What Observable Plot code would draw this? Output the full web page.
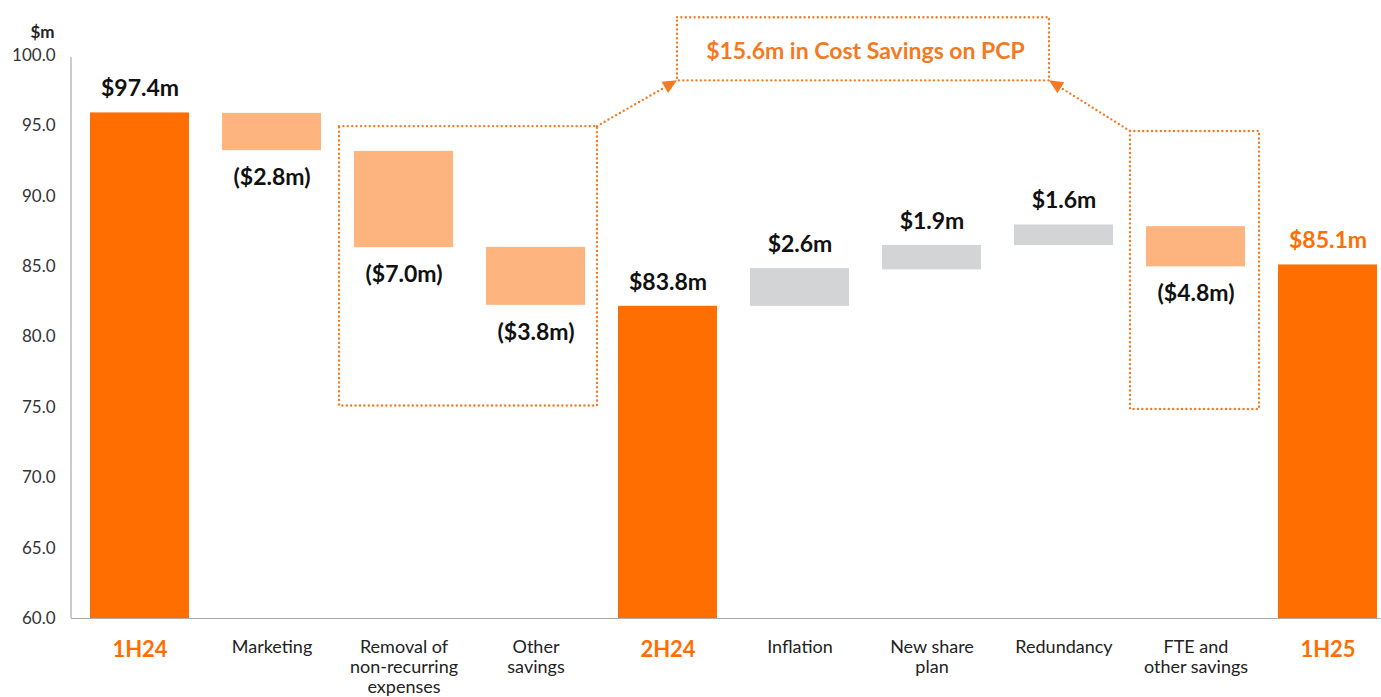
<!DOCTYPE html>
<html>
<head>
<meta charset="utf-8">
<script src="https://cdn.jsdelivr.net/npm/d3@7"></script>
<script src="https://cdn.jsdelivr.net/npm/@observablehq/plot@0.6"></script>
<style>
  html, body { margin: 0; padding: 0; background: #fff; }
  #chart svg { display: block; }
</style>
</head>
<body>
<div id="chart"></div>
<script>
// ---- data ----
const categories = ["1H24", "Marketing", "Removal of\nnon-recurring\nexpenses", "Other\nsavings", "2H24",
                    "Inflation", "New share\nplan", "Redundancy", "FTE and\nother savings", "1H25"];
const kinds = ["total", "decrease", "decrease", "decrease", "total",
               "increase", "increase", "increase", "decrease", "total"];
const barLow  = [60, 93.24, 86.35, 82.25, 60, 82.18, 84.77, 86.49, 84.98, 60];
const barHigh = [95.92, 95.89, 93.19, 86.37, 82.18, 84.86, 86.51, 87.96, 87.84, 85.12];
const valueLabels = ["$97.4m", "($2.8m)", "($7.0m)", "($3.8m)", "$83.8m",
                     "$2.6m", "$1.9m", "$1.6m", "($4.8m)", "$85.1m"];
const yTicks = [60, 65, 70, 75, 80, 85, 90, 95, 100];
const highlightLabel = "1H25";
const calloutText = "$15.6m in Cost Savings on PCP";
const unitLabel = "$m";

// ---- styles ----
const ORANGE = "#FF6E00";
const LIGHT = "#FDB47F";
const GREY = "#D3D4D6";
const DOT = "#F37A22";
const FONT = "Lato, 'Open Sans', sans-serif";
const fillFor = {total: ORANGE, decrease: LIGHT, increase: GREY};

const data = categories.map((c, i) => ({
  cat: c, kind: kinds[i], low: barLow[i], high: barHigh[i], label: valueLabels[i]
}));

const W = 1381, H = 697;
const chart = Plot.plot({
  width: W, height: H,
  marginLeft: 71, marginRight: 0, marginTop: 55, marginBottom: 79,
  style: {fontFamily: FONT, background: "#fff"},
  x: {domain: categories, paddingInner: 0.25, paddingOuter: 0.087, align: 0.83, axis: null},
  y: {domain: [60, 100], axis: null},
  color: {type: "identity"},
  marks: [
    Plot.axisY({ticks: yTicks, tickFormat: d3.format(".1f"), tickSize: 0, tickPadding: 16,
                fontSize: 17, fill: "#333", label: null}),
    Plot.barY(data, {x: "cat", y1: "low", y2: "high", fill: d => fillFor[d.kind]}),
    Plot.ruleY([60], {stroke: "#aaa", strokeWidth: 1.2}),
    // labels above bars
    Plot.text(data.filter(d => d.kind !== "decrease"), {
      x: "cat", y: "high", text: "label", dy: -24, fontSize: 23, fontWeight: 700,
      fill: d => d.cat === highlightLabel ? ORANGE : "#111"
    }),
    // labels below bars
    Plot.text(data.filter(d => d.kind === "decrease"), {
      x: "cat", y: "low", text: "label", dy: 27, fontSize: 23, fontWeight: 700, fill: "#111"
    }),
    // category labels
    Plot.text(data.filter(d => d.kind !== "total"), {
      x: "cat", y: 60, text: "cat", lineAnchor: "top", dy: 20, fontSize: 18,
      lineHeight: 1.12, fill: "#222"
    }),
    Plot.text(data.filter(d => d.kind === "total"), {
      x: "cat", y: 60, text: "cat", lineAnchor: "top", dy: 23, fontSize: 22,
      fontWeight: 700, fill: ORANGE
    }),
    Plot.text([unitLabel], {frameAnchor: "top-left", dx: -17, dy: -30, textAnchor: "end",
      fontSize: 17, fontWeight: 700, fill: "#222"})
  ]
});

document.getElementById("chart").appendChild(chart);

// ---- annotations placed through the chart's own scales ----
const sx = chart.scale("x"), sy = chart.scale("y");
const bw = sx.bandwidth;
const X = c => sx.apply(c);
const Y = v => sy.apply(v);
const svg = d3.select(chart);

// y axis line
svg.append("line")
  .attr("x1", 71).attr("x2", 71).attr("y1", Y(99.85)).attr("y2", Y(60))
  .attr("stroke", "#aaa").attr("stroke-width", 1.2);

const g = svg.append("g").attr("fill", "none").attr("stroke", DOT)
  .attr("stroke-width", 2.4).attr("stroke-dasharray", "0 4.4").attr("stroke-linecap", "round");

function box(x0, x1, y0, y1) {
  g.append("rect").attr("x", x0).attr("y", y0).attr("width", x1 - x0).attr("height", y1 - y0);
}
// group 1: Removal + Other savings
const b1 = {x0: X(categories[2]) - 15, x1: X(categories[3]) + bw + 12, y0: Y(94.95), y1: Y(75.1)};
// group 2: FTE and other savings
const b2 = {x0: X(categories[8]) - 16, x1: X(categories[8]) + bw + 14, y0: Y(94.6), y1: Y(74.85)};
// callout
const bt = {x0: X(categories[4]) + bw / 2 + 9.5, x1: X(categories[7]) + bw / 2 - 14.5, y0: Y(102.68), y1: Y(98.2)};
box(b1.x0, b1.x1, b1.y0, b1.y1);
box(b2.x0, b2.x1, b2.y0, b2.y1);
box(bt.x0, bt.x1, bt.y0, bt.y1);

function arrow(xa, ya, xb, yb) {
  const dx = xb - xa, dy = yb - ya, L = Math.hypot(dx, dy);
  const ux = dx / L, uy = dy / L;
  const headL = 14, headW = 6.5;
  const bx = xb - ux * headL, by = yb - uy * headL;
  g.append("line").attr("x1", xa).attr("y1", ya).attr("x2", bx).attr("y2", by);
  svg.append("polygon")
    .attr("points", [[xb, yb], [bx - uy * headW, by + ux * headW], [bx + uy * headW, by - ux * headW]]
      .map(p => p.join(",")).join(" "))
    .attr("fill", DOT);
}
arrow(b1.x1, b1.y0, bt.x0, bt.y1);
arrow(b2.x0, b2.y0, bt.x1, bt.y1);

svg.append("text")
  .attr("x", (X(categories[5]) + X(categories[6]) + bw) / 2)
  .attr("y", (bt.y0 + bt.y1) / 2 + 1.5)
  .attr("text-anchor", "middle").attr("dominant-baseline", "central")
  .attr("font-family", FONT).attr("font-size", 23).attr("font-weight", 700)
  .attr("fill", DOT).text(calloutText);
</script>
</body>
</html>
